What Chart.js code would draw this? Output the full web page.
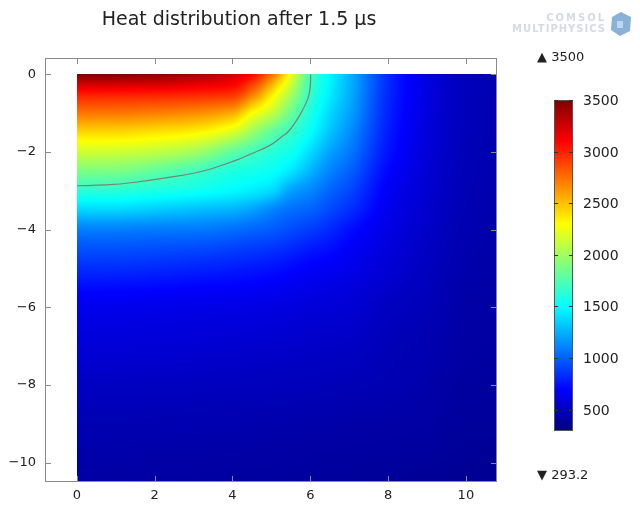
<!DOCTYPE html>
<html>
<head>
<meta charset="utf-8">
<script src="https://cdn.jsdelivr.net/npm/chart.js@4.4.1/dist/chart.umd.min.js"></script>
<style>
  html, body { margin: 0; padding: 0; background: #fff; }
</style>
</head>
<body>
<canvas id="waerme" width="640" height="507"></canvas>
<script>
// Temperaturfeld nach 1.5 us (K)
const gitterX = [0, 1, 2, 3, 4, 4.5, 5, 5.5, 6, 6.5, 7, 8, 9, 10, 10.8];
const gitterY = [0, -0.5, -1, -1.5, -2, -2.5, -3, -3.5, -4, -5, -6, -7, -8, -9, -10.5];
// eine Zeile pro gitterY-Wert, Spalten wie gitterX
const temperatur = [
  [3500, 3490, 3460, 3380, 3250, 3090, 2760, 2250, 1720, 1480, 1270, 830, 600, 485, 450],
  [3030, 3025, 3020, 3000, 2960, 2730, 2380, 2030, 1660, 1440, 1250, 820, 598, 483, 449],
  [2730, 2725, 2700, 2660, 2560, 2300, 2110, 1830, 1590, 1380, 1210, 800, 592, 480, 447],
  [2420, 2415, 2380, 2330, 2170, 1980, 1800, 1660, 1505, 1310, 1150, 780, 585, 477, 445],
  [2145, 2140, 2100, 2010, 1800, 1710, 1620, 1545, 1390, 1210, 1080, 750, 575, 473, 442],
  [1883, 1878, 1800, 1705, 1590, 1560, 1520, 1420, 1260, 1110, 1000, 710, 563, 468, 439],
  [1625, 1620, 1580, 1540, 1480, 1440, 1380, 1200, 1120, 1010, 920, 670, 550, 462, 435],
  [1365, 1360, 1330, 1290, 1250, 1200, 1110, 1040, 1000, 920, 840, 640, 537, 455, 431],
  [1095, 1092, 1080, 1075, 1040, 1010, 980, 930, 880, 820, 740, 610, 522, 448, 427],
  [835, 832, 820, 800, 780, 765, 745, 715, 680, 660, 630, 560, 495, 433, 418],
  [640, 638, 630, 620, 615, 608, 600, 590, 575, 565, 555, 500, 468, 420, 409],
  [570, 568, 562, 555, 545, 540, 535, 530, 522, 515, 508, 470, 448, 408, 400],
  [505, 503, 500, 495, 490, 487, 483, 480, 475, 470, 465, 450, 428, 395, 390],
  [455, 453, 450, 445, 440, 438, 435, 432, 428, 425, 422, 415, 405, 382, 380],
  [405, 403, 400, 397, 393, 391, 389, 387, 384, 381, 378, 372, 365, 358, 350]
];
// Schmelzisotherme (graue Linie)
const konturX = [0, 0.75, 1.5, 2.4, 3.25, 4.1, 4.5, 4.96, 5.25, 5.45, 5.73, 5.94, 6.0, 6.01];
const konturY = [-2.87, -2.85, -2.78, -2.65, -2.49, -2.21, -2.04, -1.83, -1.62, -1.46, -1.05, -0.62, -0.3, 0];

const achseX = [0, 2, 4, 6, 8, 10];
const achseY = [0, -2, -4, -6, -8, -10];
const farbTicks = [500, 1000, 1500, 2000, 2500, 3000, 3500];
const tMin = 293.2;
const tMax = 3500;

const schrift = '"DejaVu Sans", sans-serif';

function jet(t) {
  t = Math.min(1, Math.max(0, t));
  const k = v => Math.min(1, Math.max(0, v)) * 255;
  return [
    k(Math.min(4 * t - 1.5, -4 * t + 4.5)),
    k(Math.min(4 * t - 0.5, -4 * t + 3.5)),
    k(Math.min(4 * t + 0.5, -4 * t + 2.5))
  ];
}

function suche(arr, v) {
  for (let i = 0; i < arr.length - 1; i++) {
    const a = arr[i], b = arr[i + 1];
    if ((v - a) * (v - b) <= 0) return [i, (v - a) / (b - a)];
  }
  return Math.abs(v - arr[0]) < Math.abs(v - arr[arr.length - 1]) ? [0, 0] : [arr.length - 2, 1];
}

// monotone Steigungen (pchip) fuer glatte Darstellung zwischen den Gitterpunkten
function steigungen(xs, ys) {
  const n = xs.length, h = [], d = [], m = new Array(n);
  for (let k = 0; k < n - 1; k++) {
    h.push(xs[k + 1] - xs[k]);
    d.push((ys[k + 1] - ys[k]) / h[k]);
  }
  m[0] = d[0];
  m[n - 1] = d[n - 2];
  for (let k = 1; k < n - 1; k++) {
    if (d[k - 1] * d[k] <= 0) { m[k] = 0; continue; }
    const w1 = 2 * h[k] + h[k - 1], w2 = h[k] + 2 * h[k - 1];
    m[k] = (w1 + w2) / (w1 / d[k - 1] + w2 / d[k]);
  }
  return m;
}

function hermite(xs, ys, m, k, t) {
  const h = xs[k + 1] - xs[k];
  const t2 = t * t, t3 = t2 * t;
  return (2 * t3 - 3 * t2 + 1) * ys[k] + (t3 - 2 * t2 + t) * h * m[k] +
    (-2 * t3 + 3 * t2) * ys[k + 1] + (t3 - t2) * h * m[k + 1];
}

const feldPlugin = {
  id: 'feld',
  beforeDatasetsDraw(chart) {
    const { ctx, scales: { x, y } } = chart;
    const px0 = Math.round(x.getPixelForValue(gitterX[0]));
    const px1 = Math.round(x.getPixelForValue(gitterX[gitterX.length - 1]));
    const py0 = Math.round(y.getPixelForValue(gitterY[0]));
    const py1 = Math.round(y.getPixelForValue(gitterY[gitterY.length - 1]));
    const w = px1 - px0, h = py1 - py0;
    const off = document.createElement('canvas');
    off.width = w; off.height = h;
    const octx = off.getContext('2d');
    const bild = octx.createImageData(w, h);

    const spaltenWerte = gitterX.map((_, c) => temperatur.map(zeile => zeile[c]));
    const spaltenM = spaltenWerte.map(s => steigungen(gitterY, s));
    const spalten = [];
    for (let i = 0; i < w; i++) spalten.push(suche(gitterX, x.getValueForPixel(px0 + i + 0.5)));

    for (let j = 0; j < h; j++) {
      const [r, fy] = suche(gitterY, y.getValueForPixel(py0 + j + 0.5));
      const zeile = spaltenWerte.map((s, c) => hermite(gitterY, s, spaltenM[c], r, fy));
      const zm = steigungen(gitterX, zeile);
      for (let i = 0; i < w; i++) {
        const [c, fx] = spalten[i];
        const t = hermite(gitterX, zeile, zm, c, fx);
        const farbe = jet((t - tMin) / (tMax - tMin));
        const p = (j * w + i) * 4;
        bild.data[p] = farbe[0];
        bild.data[p + 1] = farbe[1];
        bild.data[p + 2] = farbe[2];
        bild.data[p + 3] = 255;
      }
    }
    octx.putImageData(bild, 0, 0);
    ctx.drawImage(off, px0, py0);
  },
  afterDraw(chart) {
    const { ctx, chartArea: a, scales: { x, y } } = chart;
    ctx.save();
    // Rahmen mit Ticks nach innen
    ctx.strokeStyle = '#8a8a8a';
    ctx.lineWidth = 1;
    ctx.strokeRect(a.left + 0.5, a.top + 0.5, a.right - a.left - 1, a.bottom - a.top - 1);
    ctx.beginPath();
    achseX.forEach(v => {
      const px = Math.round(x.getPixelForValue(v)) + 0.5;
      ctx.moveTo(px, a.top); ctx.lineTo(px, a.top + 6);
      ctx.moveTo(px, a.bottom); ctx.lineTo(px, a.bottom - 6);
    });
    achseY.forEach(v => {
      const py = Math.round(y.getPixelForValue(v)) + 0.5;
      ctx.moveTo(a.left, py); ctx.lineTo(a.left + 6, py);
      ctx.moveTo(a.right, py); ctx.lineTo(a.right - 6, py);
    });
    ctx.stroke();

    // Titel
    ctx.fillStyle = '#222';
    ctx.font = '19px ' + schrift;
    ctx.textAlign = 'center';
    ctx.textBaseline = 'middle';
    ctx.fillText('Heat distribution after 1.5 \u00b5s', 239, 20);

    // Farbskala
    const cbL = 554, cbR = 573, cbT = 100, cbB = 431;
    for (let py = cbT; py < cbB; py++) {
      const v = tMax - (py + 0.5 - cbT) / (cbB - cbT) * (tMax - tMin);
      const f = jet((v - tMin) / (tMax - tMin));
      ctx.fillStyle = `rgb(${f[0]},${f[1]},${f[2]})`;
      ctx.fillRect(cbL, py, cbR - cbL, 1);
    }
    ctx.strokeStyle = '#555';
    ctx.strokeRect(cbL + 0.5, cbT + 0.5, cbR - cbL - 1, cbB - cbT - 1);
    ctx.font = '14px ' + schrift;
    ctx.textAlign = 'left';
    ctx.beginPath();
    farbTicks.forEach(v => {
      const py = Math.round(cbB - (v - tMin) / (tMax - tMin) * (cbB - cbT)) + 0.5;
      ctx.moveTo(cbL, py); ctx.lineTo(cbL + 4, py);
      ctx.moveTo(cbR, py); ctx.lineTo(cbR - 4, py);
      ctx.fillStyle = '#222';
      ctx.fillText(String(v), 583, py + 1);
    });
    ctx.strokeStyle = '#333';
    ctx.stroke();
    ctx.font = '13px ' + schrift;
    ctx.fillText('\u25b2 ' + tMax, 537, 58);
    ctx.fillText('\u25bc ' + tMin, 537, 476);

    // COMSOL Logo (blass)
    ctx.fillStyle = '#d6dbe2';
    ctx.textAlign = 'right';
    ctx.font = 'bold 10px ' + schrift;
    ctx.letterSpacing = '2px';
    ctx.fillText('COMSOL', 606, 18);
    ctx.letterSpacing = '1px';
    ctx.fillText('MULTIPHYSICS', 606, 29);
    ctx.letterSpacing = '0px';
    ctx.fillStyle = 'rgba(60,125,190,0.6)';
    ctx.beginPath();
    ctx.moveTo(621, 12); ctx.lineTo(631, 17); ctx.lineTo(630, 31);
    ctx.lineTo(620, 36); ctx.lineTo(611, 30); ctx.lineTo(612, 17);
    ctx.closePath();
    ctx.fill();
    ctx.fillStyle = 'rgba(205,228,246,0.75)';
    ctx.fillRect(617, 21, 6, 7);
    ctx.restore();
  }
};

const tickFont = { family: schrift, size: 13 };
const minus = v => String(v).replace('-', '\u2212');

new Chart(document.getElementById('waerme'), {
  type: 'scatter',
  data: {
    datasets: [{
      label: 'Schmelzisotherme',
      data: konturX.map((v, i) => ({ x: v, y: konturY[i] })),
      showLine: true,
      borderColor: 'rgba(125,120,105,0.9)',
      borderWidth: 1.2,
      pointRadius: 0,
      tension: 0.4
    }]
  },
  options: {
    responsive: false,
    animation: false,
    devicePixelRatio: 1,
    layout: { padding: { top: 58, right: 143, left: 0, bottom: 0 } },
    plugins: { legend: { display: false }, tooltip: { enabled: false }, title: { display: false } },
    scales: {
      x: {
        type: 'linear',
        min: -0.82,
        max: 10.8,
        grid: { display: false, drawTicks: false },
        border: { display: false },
        afterBuildTicks: s => { s.ticks = achseX.map(v => ({ value: v })); },
        afterFit: s => { s.height = 25; },
        ticks: { font: tickFont, color: '#222', padding: 6, maxRotation: 0, callback: minus }
      },
      y: {
        type: 'linear',
        min: -10.5,
        max: 0.42,
        grid: { display: false, drawTicks: false },
        border: { display: false },
        afterBuildTicks: s => { s.ticks = achseY.map(v => ({ value: v })); },
        afterFit: s => { s.width = 45; },
        ticks: { font: tickFont, color: '#222', padding: 9, callback: minus }
      }
    }
  },
  plugins: [feldPlugin]
});
</script>
</body>
</html>
